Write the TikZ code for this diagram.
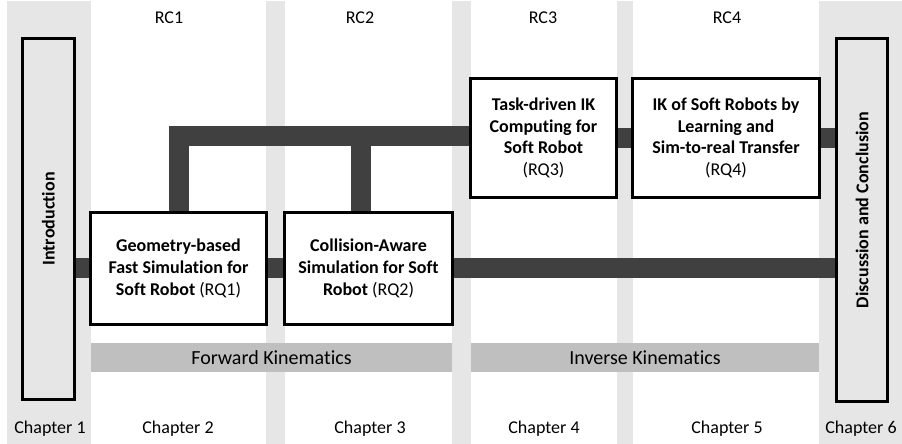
\documentclass[tikz,border=0pt]{standalone}
\usepackage{fontspec}
\setmainfont{Carlito}[Ligatures=NoCommon]
\definecolor{stripe}{HTML}{E7E6E6}
\definecolor{band}{HTML}{BFBFBF}
\definecolor{bar}{HTML}{404040}
\begin{document}
\begin{tikzpicture}[x=1pt,y=-1pt,
  box/.style={draw=black, line width=2pt, fill=white, align=center, inner sep=0pt,
    font=\fontsize{18}{21.7}\selectfont\bfseries},
  sidebox/.style={draw=black, line width=2pt, fill=stripe, inner sep=0pt},
  barline/.style={draw=bar, line width=20pt, line join=miter},
  lbl/.style={font=\fontsize{18}{21.7}\selectfont, inner sep=0pt},
  bandtxt/.style={font=\fontsize{20}{24}\selectfont, inner sep=0pt}]
\useasboundingbox (0,0) rectangle (902,444);
% background stripes
\fill[stripe] (7,1) rectangle (91,444);
\fill[stripe] (266,1) rectangle (285,444);
\fill[stripe] (452,1) rectangle (471,444);
\fill[stripe] (617,1) rectangle (633,444);
\fill[stripe] (819,1) rectangle (902,444);
% bands
\fill[band] (91,343) rectangle (452,372);
\fill[band] (471,343) rectangle (819,372);
\node[bandtxt] (fk) at (271.5,357.5) {Forward Kinematics};
\node[bandtxt] (ik) at (645,357.5) {Inverse Kinematics};
% labels
\node[lbl] (rc1) at (169,18) {RC1};
\node[lbl] (rc2) at (360,18) {RC2};
\node[lbl] (rc3) at (543,18) {RC3};
\node[lbl] (rc4) at (727,18) {RC4};
\node[lbl] (ch1) at (50,429) {Chapter 1};
\node[lbl] (ch2) at (178,429) {Chapter 2};
\node[lbl] (ch3) at (370,429) {Chapter 3};
\node[lbl] (ch4) at (544,429) {Chapter 4};
\node[lbl] (ch5) at (727,429) {Chapter 5};
\node[lbl] (ch6) at (861,429) {Chapter 6};
% nodes
\node[sidebox, minimum width=51pt, minimum height=360pt] (intro) at (48.5,219) {};
\node[sidebox, minimum width=50pt, minimum height=362pt] (disc) at (862,220) {};
\node[box, minimum width=175pt, minimum height=111pt] (rq1) at (178.5,268.5)
  {Geometry-based\\Fast Simulation for\\Soft Robot \mdseries(RQ1)};
\node[box, minimum width=167pt, minimum height=111pt] (rq2) at (368.5,268.5)
  {Collision-Aware\\Simulation for Soft\\Robot \mdseries(RQ2)};
\node[box, minimum width=145pt, minimum height=118pt] (rq3) at (543.5,138)
  {Task-driven IK\\Computing for\\Soft Robot\\\mdseries(RQ3)};
\node[box, minimum width=186pt, minimum height=118pt] (rq4) at (726,138)
  {IK of Soft Robots by\\Learning and\\Sim-to-real Transfer\\\mdseries(RQ4)};
% connectors
\coordinate (tl) at (178.5,135.5);
\coordinate (tm) at (360.5,135.5);
\coordinate (bl) at (0,268);
\draw[barline] (rq1.north -| tl) -- (tl) -- (rq3.west |- tl);
\draw[barline] (rq2.north -| tm) -- (tm);
\draw[barline] (rq3.east) -- (rq4.west);
\draw[barline] (rq4.east) -- (disc.west |- rq4.east);
\draw[barline] (intro.east |- bl) -- (rq1.west |- bl);
\draw[barline] (rq1.east |- bl) -- (rq2.west |- bl);
\draw[barline] (rq2.east |- bl) -- (disc.west |- bl);
% redraw box borders on top
\foreach \n in {intro,disc,rq1,rq2,rq3,rq4}{
  \draw[line width=2pt] (\n.north west) rectangle (\n.south east);
}
\node[rotate=90, font=\fontsize{18}{21.7}\selectfont\bfseries, inner sep=0pt] (introtxt) at (intro.center) {Introduction};
\node[rotate=90, font=\fontsize{18}{21.7}\selectfont\bfseries, inner sep=0pt] (disctxt) at ([yshift=10pt]disc.center) {Discussion and Conclusion};
\end{tikzpicture}
\end{document}
